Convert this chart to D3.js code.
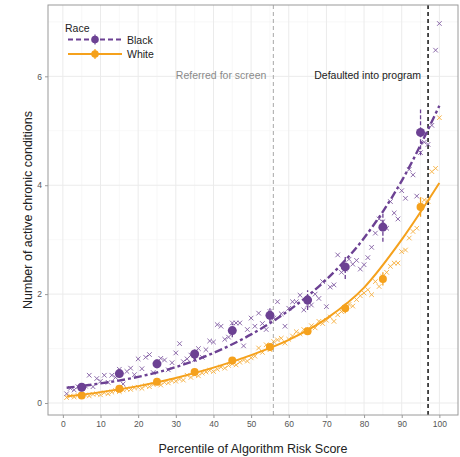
<!DOCTYPE html>
<html>
<head>
<meta charset="utf-8">
<script src="https://cdn.jsdelivr.net/npm/d3@7"></script>
<style>
  body { margin: 0; background: #fff; }
  svg text { font-family: "Liberation Sans", Arial, sans-serif; }
</style>
</head>
<body>
<div id="chart"></div>
<script>
(function(d3) {
  'use strict';

  var width = 460;
  var height = 457;

  // percentile-level means (x markers), percentiles 1..100
  var percentiles = d3.range(1, 101);
  var blackPct = [
    0.17, 0.27, 0.24, 0.30, 0.27, 0.31, 0.51, 0.30, 0.45, 0.40,
    0.51, 0.38, 0.51, 0.47, 0.62, 0.35, 0.58, 0.64, 0.52, 0.81,
    0.63, 0.84, 0.89, 0.56, 0.73, 0.82, 0.79, 0.61, 0.74, 0.92,
    1.09, 0.76, 0.81, 0.88, 0.80, 1.00, 0.84, 0.98, 1.14, 1.12,
    1.44, 1.41, 1.17, 1.21, 1.47, 1.47, 1.47, 1.05, 1.35, 1.56,
    1.41, 1.65, 1.46, 1.35, 1.68, 1.56, 1.86, 1.64, 1.41, 1.74,
    1.86, 1.86, 1.98, 1.71, 1.80, 1.80, 2.00, 1.92, 2.23, 1.77,
    2.13, 2.17, 2.72, 2.40, 2.46, 2.64, 2.55, 2.62, 2.46, 2.54,
    2.67, 2.86, 3.12, 3.38, 3.33, 3.21, 3.70, 3.49, 3.38, 3.90,
    3.76, 4.29, 4.19, 3.80, 4.60, 4.79, 4.75, 5.10, 6.48, 6.97
  ];
  var whitePct = [
    0.10, 0.13, 0.11, 0.14, 0.12, 0.15, 0.13, 0.16, 0.17, 0.15,
    0.19, 0.17, 0.20, 0.23, 0.21, 0.24, 0.26, 0.25, 0.28, 0.29,
    0.27, 0.32, 0.30, 0.34, 0.36, 0.33, 0.38, 0.37, 0.41, 0.40,
    0.44, 0.42, 0.51, 0.47, 0.52, 0.50, 0.55, 0.57, 0.60, 0.58,
    0.62, 0.66, 0.64, 0.69, 0.72, 0.70, 0.75, 0.79, 0.77, 0.83,
    0.86, 1.01, 0.93, 1.07, 0.98, 1.13, 1.16, 1.19, 1.10, 1.17,
    1.23, 1.31, 1.27, 1.35, 1.33, 1.42, 1.38, 1.50, 1.46, 1.52,
    1.58, 1.50, 1.62, 1.68, 1.74, 1.81, 1.78, 1.90, 1.97, 2.02,
    2.08, 1.99, 2.23, 2.14, 2.32, 2.40, 2.51, 2.57, 2.57, 2.78,
    2.81, 3.03, 3.15, 3.21, 3.64, 3.73, 3.70, 4.25, 4.31, 5.24
  ];

  // decile means (big dots) with error half-widths
  var decileX = [5, 15, 25, 35, 45, 55, 65, 75, 85, 95];
  var blackDecile = [0.29, 0.54, 0.72, 0.90, 1.33, 1.61, 1.89, 2.50, 3.23, 4.97];
  var blackErr = [0.04, 0.07, 0.08, 0.10, 0.12, 0.13, 0.18, 0.22, 0.27, 0.42];
  var whiteDecile = [0.14, 0.26, 0.39, 0.57, 0.78, 1.03, 1.32, 1.74, 2.28, 3.60];
  var whiteErr = [0.02, 0.03, 0.03, 0.04, 0.05, 0.06, 0.07, 0.09, 0.12, 0.18];

  // fitted curves
  var fitX = [1, 10, 20, 30, 40, 50, 60, 70, 80, 90, 100];
  var blackFit = [0.28, 0.36, 0.48, 0.66, 0.92, 1.26, 1.70, 2.27, 3.03, 4.08, 5.46];
  var whiteFit = [0.12, 0.20, 0.31, 0.46, 0.65, 0.88, 1.16, 1.55, 2.12, 3.00, 4.04];

  var xTicks = [0, 10, 20, 30, 40, 50, 60, 70, 80, 90, 100];
  var yTicks = [0, 2, 4, 6];
  var screenCut = 55.9;
  var programCut = 97;

  var purple = '#6c4193';
  var orange = '#f5a11c';
  var blackDash = '8,3,3,3';

  var margin = { top: 5, right: 2, bottom: 42, left: 48 };

  var x = d3.scaleLinear().domain([-3.95, 104.95])
    .range([margin.left, width - margin.right]);
  var y = d3.scaleLinear().domain([-0.22, 7.31])
    .range([height - margin.bottom, margin.top]);

  var svg = d3.select('#chart')
    .append('svg')
    .attr('width', width)
    .attr('height', height);

  var x0 = margin.left, x1 = width - margin.right;
  var y0 = margin.top, y1 = height - margin.bottom;

  // minor grid
  svg.append('g').selectAll('line')
    .data(d3.range(5, 100, 10))
    .enter().append('line')
    .attr('x1', x).attr('x2', x).attr('y1', y0).attr('y2', y1)
    .attr('stroke', '#f4f4f4').attr('stroke-width', 0.6);
  svg.append('g').selectAll('line')
    .data([1, 3, 5, 7])
    .enter().append('line')
    .attr('y1', y).attr('y2', y).attr('x1', x0).attr('x2', x1)
    .attr('stroke', '#f4f4f4').attr('stroke-width', 0.6);

  // major grid
  svg.append('g').selectAll('line')
    .data(xTicks)
    .enter().append('line')
    .attr('x1', x).attr('x2', x).attr('y1', y0).attr('y2', y1)
    .attr('stroke', '#ebebeb').attr('stroke-width', 1);
  svg.append('g').selectAll('line')
    .data(yTicks)
    .enter().append('line')
    .attr('y1', y).attr('y2', y).attr('x1', x0).attr('x2', x1)
    .attr('stroke', '#ebebeb').attr('stroke-width', 1);

  // threshold lines
  svg.append('line')
    .attr('x1', x(screenCut)).attr('x2', x(screenCut)).attr('y1', y0).attr('y2', y1)
    .attr('stroke', '#a8a8a8').attr('stroke-width', 1)
    .attr('stroke-dasharray', '4,3');
  svg.append('line')
    .attr('x1', x(programCut)).attr('x2', x(programCut)).attr('y1', y0).attr('y2', y1)
    .attr('stroke', '#222').attr('stroke-width', 1.6)
    .attr('stroke-dasharray', '4,3');

  svg.append('text')
    .attr('x', x(screenCut) - 7).attr('y', 79)
    .attr('text-anchor', 'end')
    .style('font-size', '10.5px').style('fill', '#8a8a8a')
    .text('Referred for screen');
  svg.append('text')
    .attr('x', x(programCut) - 7).attr('y', 79)
    .attr('text-anchor', 'end')
    .style('font-size', '10.5px').style('fill', '#222')
    .text('Defaulted into program');

  // x markers
  function crosses(vals, color) {
    var s = 2.3;
    var g = svg.append('g')
      .attr('stroke', color).attr('stroke-width', 0.9).attr('opacity', 0.85);
    g.selectAll('path')
      .data(percentiles)
      .enter().append('path')
      .attr('d', function(p, i) {
        var cx = x(p), cy = y(vals[i]);
        return 'M' + (cx - s) + ',' + (cy - s) + 'L' + (cx + s) + ',' + (cy + s) +
          'M' + (cx - s) + ',' + (cy + s) + 'L' + (cx + s) + ',' + (cy - s);
      });
  }
  crosses(whitePct, orange);
  crosses(blackPct, purple);

  // fitted curves
  var line = d3.line()
    .x(function(d, i) { return x(fitX[i]); })
    .y(function(d) { return y(d); })
    .curve(d3.curveMonotoneX);

  svg.append('path')
    .datum(whiteFit)
    .attr('d', line)
    .attr('fill', 'none').attr('stroke', orange).attr('stroke-width', 2);
  svg.append('path')
    .datum(blackFit)
    .attr('d', line)
    .attr('fill', 'none').attr('stroke', purple).attr('stroke-width', 2.4)
    .attr('stroke-dasharray', blackDash);

  // decile points with error bars
  function dots(vals, errs, color, r, dash) {
    var g = svg.append('g');
    g.selectAll('line')
      .data(decileX)
      .enter().append('line')
      .attr('x1', x).attr('x2', x)
      .attr('y1', function(d, i) { return y(vals[i] - errs[i]); })
      .attr('y2', function(d, i) { return y(vals[i] + errs[i]); })
      .attr('stroke', color).attr('stroke-width', 1.3)
      .attr('stroke-dasharray', dash);
    g.selectAll('circle')
      .data(decileX)
      .enter().append('circle')
      .attr('cx', x)
      .attr('cy', function(d, i) { return y(vals[i]); })
      .attr('r', r)
      .attr('fill', color);
  }
  dots(whiteDecile, whiteErr, orange, 4, null);
  dots(blackDecile, blackErr, purple, 4.5, '4,2');

  // panel border
  svg.append('rect')
    .attr('x', x0).attr('y', y0)
    .attr('width', x1 - x0).attr('height', y1 - y0)
    .attr('fill', 'none').attr('stroke', '#9a9a9a').attr('stroke-width', 1);

  // axes
  var xAxis = svg.append('g')
    .attr('transform', 'translate(0,' + y1 + ')')
    .call(d3.axisBottom(x).tickValues(xTicks).tickSize(3).tickPadding(3));
  var yAxis = svg.append('g')
    .attr('transform', 'translate(' + x0 + ',0)')
    .call(d3.axisLeft(y).tickValues(yTicks).tickSize(3).tickPadding(3));
  [xAxis, yAxis].forEach(function(a) {
    a.select('.domain').remove();
    a.selectAll('.tick line').attr('stroke', '#9a9a9a');
    a.selectAll('.tick text')
      .style('font-size', '8.5px')
      .style('fill', '#555')
      .style('font-family', '"Liberation Sans", Arial, sans-serif');
  });

  // axis titles
  svg.append('text')
    .attr('x', (x0 + x1) / 2).attr('y', 453)
    .attr('text-anchor', 'middle')
    .style('font-size', '12.5px').style('fill', '#222')
    .text('Percentile of Algorithm Risk Score');
  svg.append('text')
    .attr('transform', 'translate(32,' + ((y0 + y1) / 2) + ') rotate(-90)')
    .attr('text-anchor', 'middle')
    .style('font-size', '12.5px').style('fill', '#222')
    .text('Number of active chronic conditions');

  // legend
  var legend = svg.append('g');
  legend.append('text')
    .attr('x', 65).attr('y', 32)
    .style('font-size', '10.5px').style('fill', '#222')
    .text('Race');
  var keys = [
    { label: 'Black', color: purple, dash: '5,3', y: 39.5 },
    { label: 'White', color: orange, dash: null, y: 54 }
  ];
  keys.forEach(function(k) {
    legend.append('line')
      .attr('x1', 68).attr('x2', 122).attr('y1', k.y).attr('y2', k.y)
      .attr('stroke', k.color).attr('stroke-width', 2)
      .attr('stroke-dasharray', k.dash);
    legend.append('line')
      .attr('x1', 95).attr('x2', 95).attr('y1', k.y - 5).attr('y2', k.y + 5)
      .attr('stroke', k.color).attr('stroke-width', 1.2);
    legend.append('circle')
      .attr('cx', 95).attr('cy', k.y).attr('r', 3.8)
      .attr('fill', k.color);
    legend.append('text')
      .attr('x', 127).attr('y', k.y + 4)
      .style('font-size', '10.5px').style('fill', '#222')
      .text(k.label);
  });

})(window.d3);
</script>
</body>
</html>
